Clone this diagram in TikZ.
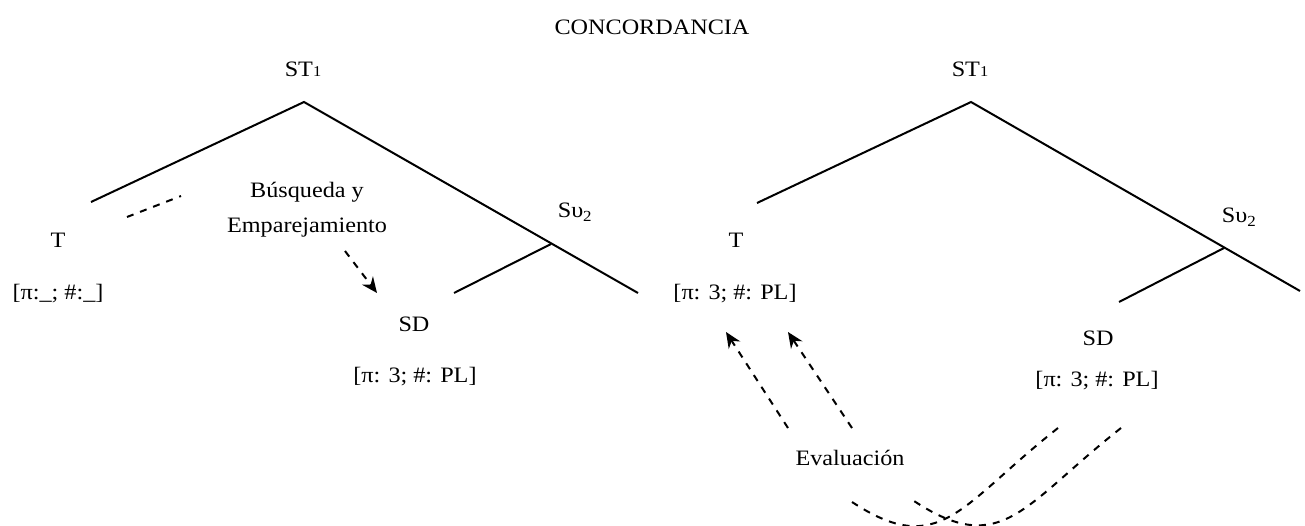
\documentclass[tikz,border=0pt]{standalone}
\usepackage{fontspec}
\setmainfont{Liberation Serif}[FakeStretch=1.1]
\usetikzlibrary{arrows.meta,positioning}

\newcommand{\lowone}{{\fontsize{15}{15}\selectfont 1}}

\begin{document}
\begin{tikzpicture}[x=1pt, y=-1pt,
      font=\fontsize{22}{35}\selectfont,
      lbl/.style={inner sep=0pt, anchor=base},
      br/.style={line width=2pt},
      dsh/.style={line width=2pt, dash pattern=on 7pt off 7pt},
      ar/.style={dsh, -{Stealth[length=5.5mm, width=4.8mm]}}]
    \useasboundingbox (0,0) rectangle (1305,526);
    \node[lbl] (title) at (652,35) {CONCORDANCIA};
    % left tree
    \node[lbl] (st1) at (303,77) {ST\lowone};
    \node[lbl] (t1) at (58,248) {T};
    \node[lbl] (t1f) at (58,300) {[π:\_; \#:\_]};
    \node[lbl] (sv1) at (575,218) {Sυ\textsubscript{2}};
    \node[lbl] (sd1) at (414,331) {SD};
    \node[lbl] (sd1f) at (415,382) {[π: 3; \#: PL]};
    \node[lbl, align=center] (bus) at (307,233) {Búsqueda y\\Emparejamiento};
    \coordinate (top1) at (304,102);
    \coordinate (l1) at (91,202);
    \coordinate (r1) at (638,293);
    \coordinate (m1) at (551,244);
    \coordinate (d1) at (454,293);
    \coordinate (ga) at (127,217);
    \coordinate (gb) at (181,196);
    \coordinate (ba) at (345,251);
    \coordinate (bb) at (377,293);
    \draw[br] (l1) -- (top1) -- (r1);
    \draw[br] (m1) -- (d1);
    \draw[dsh] (ga) -- (gb);
    \draw[ar] (ba) -- (bb);
    % right tree
    \node[lbl] (st2) at (970,77) {ST\lowone};
    \node[lbl] (t2) at (736,248) {T};
    \node[lbl] (t2f) at (735,300) {[π: 3; \#: PL]};
    \node[lbl] (sv2) at (1239,223) {Sυ\textsubscript{2}};
    \node[lbl] (sd2) at (1098,345) {SD};
    \node[lbl] (sd2f) at (1097,386) {[π: 3; \#: PL]};
    \node[lbl] (ev) at (850,465) {Evaluación};
    \coordinate (top2) at (971,102);
    \coordinate (l2) at (757,203);
    \coordinate (r2) at (1300,291);
    \coordinate (m2) at (1224,248);
    \coordinate (d2) at (1119,302);
    \coordinate (ea) at (788,428);
    \coordinate (eb) at (852,428);
    \coordinate (ta) at (726,332);
    \coordinate (tb) at (788,332);
    \coordinate (ca) at (1058,428);
    \coordinate (cb) at (1121,428);
    \coordinate (ka) at (852,502);
    \coordinate (kb) at (914,501);
    \draw[br] (l2) -- (top2) -- (r2);
    \draw[br] (m2) -- (d2);
    \draw[ar] (ea) -- (ta);
    \draw[ar] (eb) -- (tb);
    \draw[dsh] (ca) .. controls ++(-98,77) and ++(88,58) .. (ka);
    \draw[dsh] (cb) .. controls ++(-98,77) and ++(88,58) .. (kb);
\end{tikzpicture}
\end{document}
